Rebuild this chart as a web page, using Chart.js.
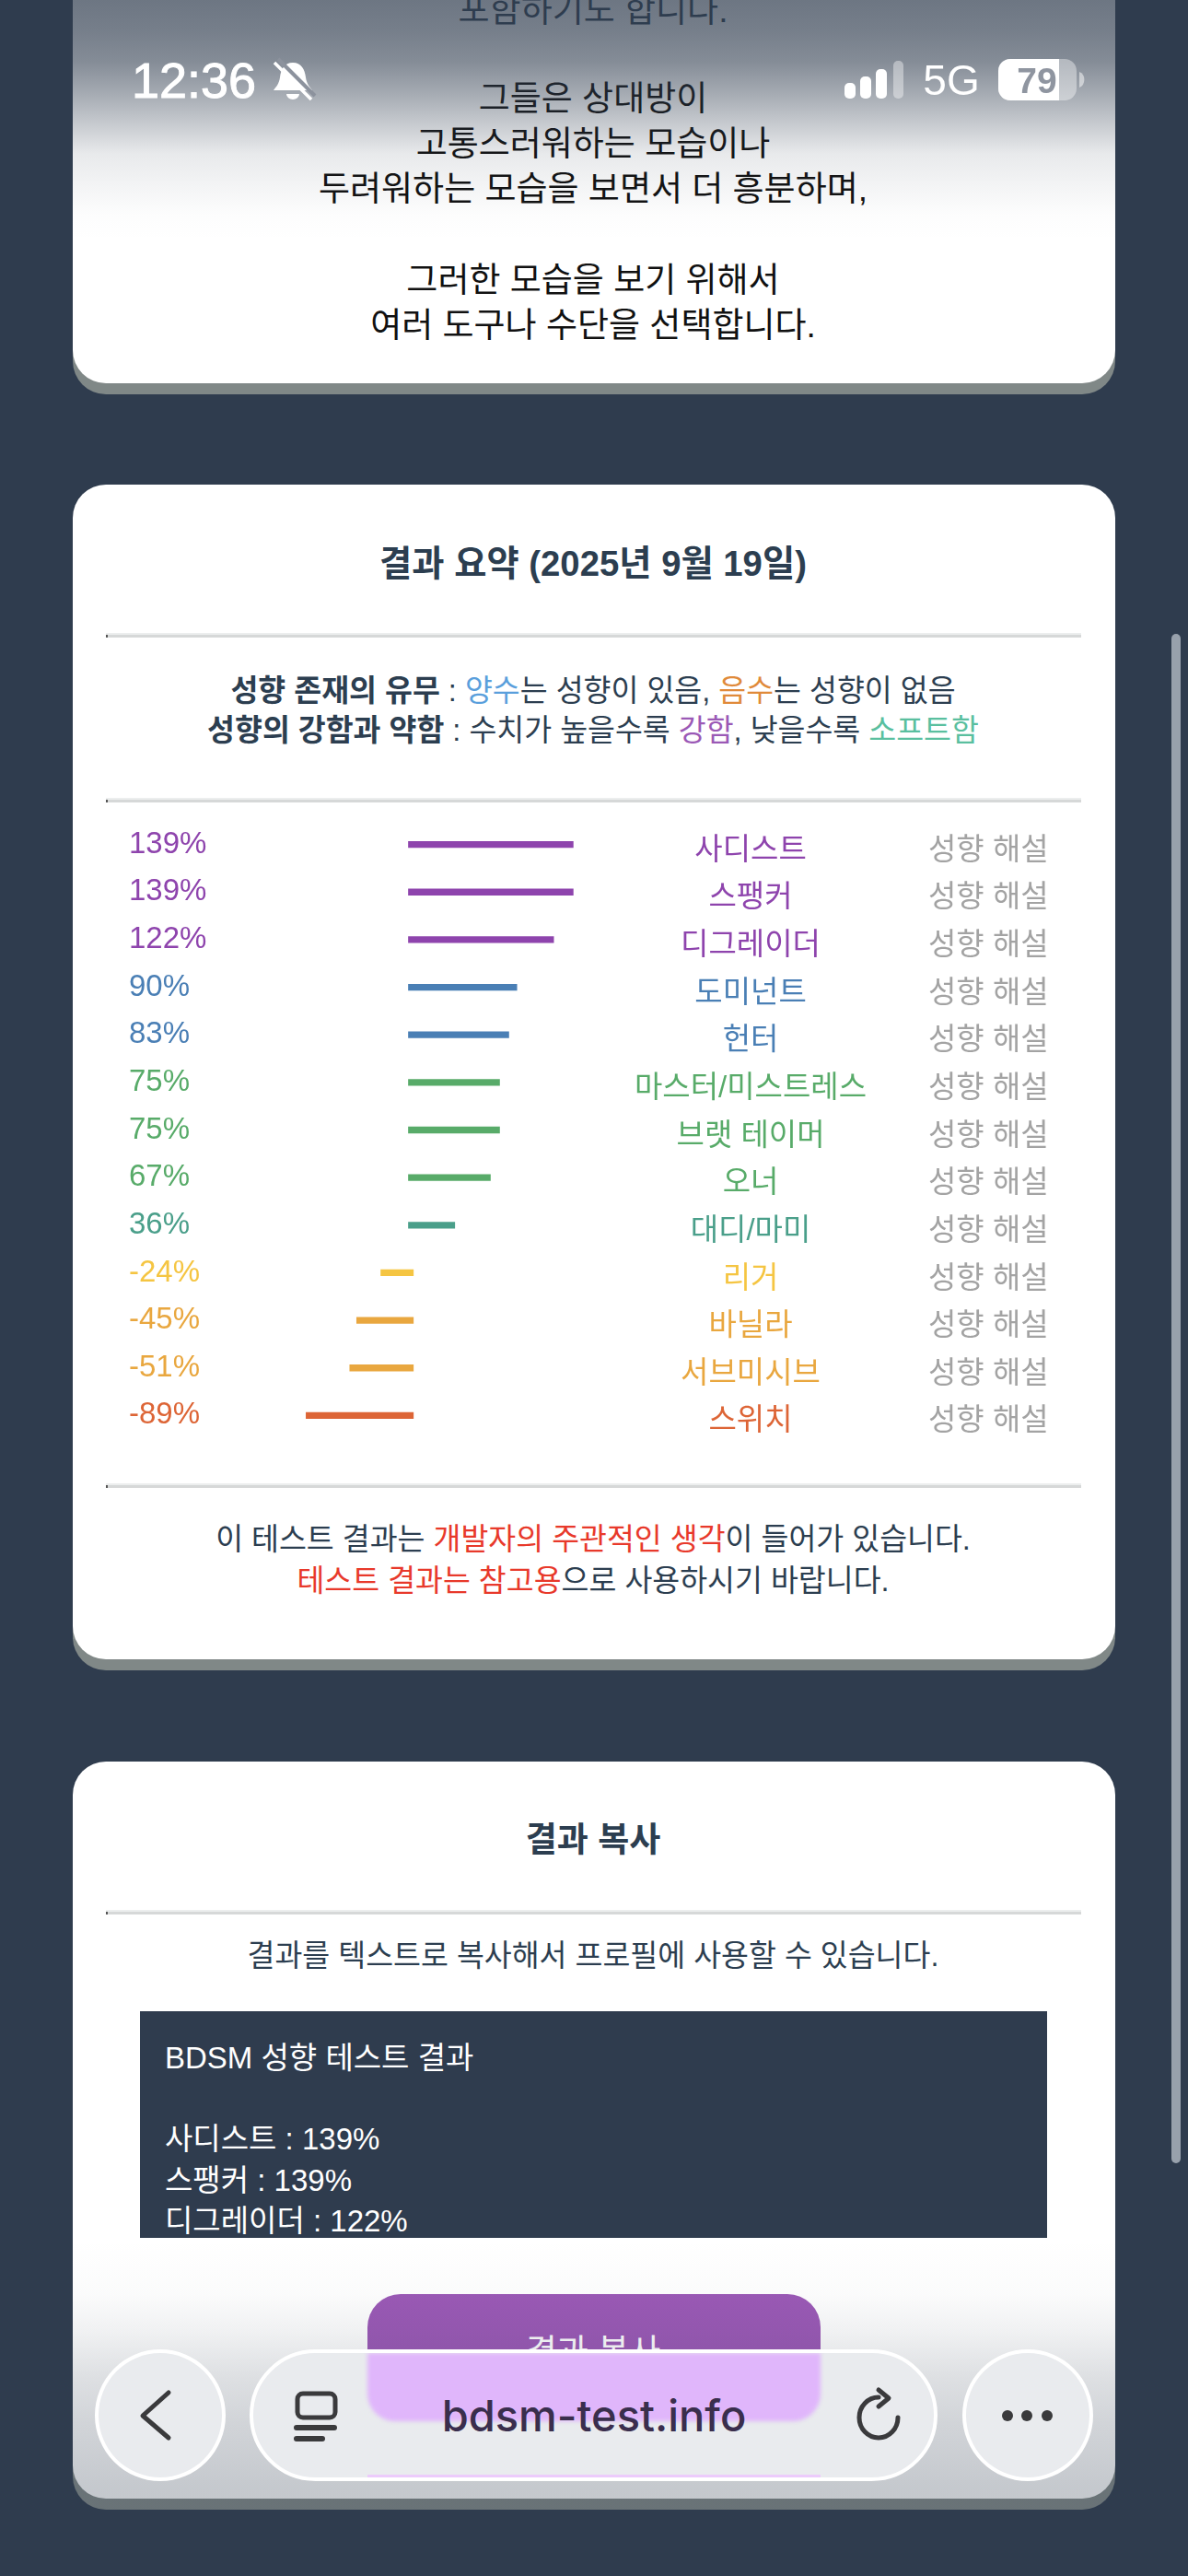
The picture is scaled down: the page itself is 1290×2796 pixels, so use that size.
<!DOCTYPE html>
<html lang="ko"><head><meta charset="utf-8">
<script src="https://cdn.jsdelivr.net/npm/chart.js@4/dist/chart.umd.js"></script>
<style>
html,body{margin:0;padding:0;background:#2f3c4e;width:1290px;height:2796px;overflow:hidden;font-family:"Liberation Sans","Noto Sans CJK KR",sans-serif;color:#2c3e50}
.card{position:absolute;left:79px;width:1132px;background:#fff;border-radius:36px;box-shadow:0 12px 0 0 #808887}
.hr{position:absolute;left:115px;width:1059px;height:3px;border-top:2px solid #eceeee;background:#d6d8d8}
.hr:before{content:"";position:absolute;left:0;top:0;width:2px;height:3px;background:#555}
.t{position:absolute;white-space:nowrap;line-height:1;transform:translate(-50%,-50%)}
.c{left:644px}
.l{transform:translateY(-50%)}
b{font-weight:700}
.box{position:absolute;left:152px;top:2183px;width:985px;height:246px;background:#2f3c4e;overflow:hidden}
#top{position:absolute;left:0;top:0;width:1290px;height:262px;background:linear-gradient(to bottom,rgba(47,60,78,.70) 0,rgba(47,60,78,.66) 33px,rgba(47,60,78,.59) 67px,rgba(47,60,78,.44) 100px,rgba(47,60,78,.28) 133px,rgba(47,60,78,.11) 167px,rgba(47,60,78,.06) 200px,rgba(47,60,78,.01) 233px,rgba(47,60,78,0) 262px)}
#bot{position:absolute;left:0;top:2430px;width:1290px;height:366px;background:linear-gradient(to bottom,rgba(47,60,78,0) 0,rgba(47,60,78,.02) 60px,rgba(47,60,78,.07) 100px,rgba(47,60,78,.16) 150px,rgba(47,60,78,.22) 200px,rgba(47,60,78,.28) 270px,rgba(47,60,78,.28) 366px)}
.pill{position:absolute;top:2550px;height:135px;background:#e9ebee;border:4px solid #fff;box-sizing:content-box;overflow:hidden}
#scroll{position:absolute;left:1272px;top:688px;width:10px;height:1660px;border-radius:5px;background:#98a1ac}
svg{position:absolute;left:0;top:0}
canvas{position:absolute;left:140px;top:871px}
</style></head><body>

<div class="card" style="top:-200px;height:616px"></div>
<div class="t c" style="top:11px;font-size:37px;color:#2c3e50">포함하기도 합니다.</div>
<div class="t c" style="top:107px;font-size:37px;color:#111">그들은 상대방이</div>
<div class="t c" style="top:156px;font-size:37px;color:#111">고통스러워하는 모습이나</div>
<div class="t c" style="top:205px;font-size:37px;color:#111">두려워하는 모습을 보면서 더 흥분하며,</div>
<div class="t c" style="top:304px;font-size:37px;color:#111">그러한 모습을 보기 위해서</div>
<div class="t c" style="top:353px;font-size:37px;color:#111">여러 도구나 수단을 선택합니다.</div>

<div class="card" style="top:526px;height:1275px"></div>
<div class="t c" style="top:612px;font-size:38.3px;font-weight:700">결과 요약 (2025년 9월 19일)</div>
<div class="hr" style="top:687px"></div>
<div class="t c" style="top:750px;font-size:32.5px"><b>성향 존재의 유무</b> : <span style="color:#5a9fdc">양수</span>는 성향이 있음, <span style="color:#e08a3a">음수</span>는 성향이 없음</div>
<div class="t c" style="top:793px;font-size:32.5px"><b>성향의 강함과 약함</b> : 수치가 높을수록 <span style="color:#9b59b6">강함</span>, 낮을수록 <span style="color:#5abf9f">소프트함</span></div>
<div class="hr" style="top:866px"></div>
<canvas id="chart" width="998" height="711"></canvas>
<div class="hr" style="top:1610px"></div>
<div class="t c" style="top:1671px;font-size:32.5px">이 테스트 결과는 <span style="color:#e8392b">개발자의 주관적인 생각</span>이 들어가 있습니다.</div>
<div class="t c" style="top:1716px;font-size:32.5px"><span style="color:#e8392b">테스트 결과는 참고용</span>으로 사용하시기 바랍니다.</div>

<div class="card" style="top:1912px;height:800px"></div>
<div class="t c" style="top:1997px;font-size:37px;font-weight:700">결과 복사</div>
<div class="hr" style="top:2073px"></div>
<div class="t c" style="top:2123px;font-size:32.5px">결과를 텍스트로 복사해서 프로필에 사용할 수 있습니다.</div>
<div class="box"></div>
<div class="t l" style="left:179px;top:2233px;font-size:33px;color:#fff">BDSM 성향 테스트 결과</div>
<div class="t l" style="left:179px;top:2321px;font-size:33px;color:#fff">사디스트 : 139%</div>
<div class="t l" style="left:179px;top:2366px;font-size:33px;color:#fff">스팽커 : 139%</div>
<div style="position:absolute;left:152px;top:2385px;width:985px;height:44px;overflow:hidden"><div class="t l" style="left:27px;top:25px;font-size:33px;color:#fff">디그레이더 : 122%</div></div>

<div style="position:absolute;left:399px;top:2490px;width:492px;height:137px;border-radius:36px;background:#9b59b6"></div>
<div class="t c" style="top:2553px;font-size:37px;color:#fff">결과 복사</div>

<div id="scroll"></div>
<div id="bot"></div>
<div id="top"></div>

<div class="pill" style="left:103px;width:134px;border-radius:50%"></div>
<div class="pill" style="left:271px;width:739px;border-radius:72px">
  <div style="position:absolute;left:124px;top:0;width:492px;height:74px;background:#e0b6fb;border-radius:0 0 30px 30px;filter:blur(2px)"></div>
  <div style="position:absolute;left:124px;top:132px;width:492px;height:6px;background:#eccbfb"></div>
</div>
<div class="pill" style="left:1045px;width:134px;border-radius:50%"></div>
<div class="t" style="left:645px;top:2621px;font-size:47px;font-family:Inter,'Liberation Sans',sans-serif;font-weight:500;color:#3a2e4d">bdsm-test.info</div>

<svg width="1290" height="2796" viewBox="0 0 1290 2796" fill="none">
  <path d="M183 2597L155 2622L183 2646" stroke="#3a3a3c" stroke-width="5" stroke-linecap="round" stroke-linejoin="round"/>
  <rect x="323" y="2598" width="41" height="26" rx="6" stroke="#3a3a3c" stroke-width="5"/>
  <path d="M322 2635H363M322 2647H350" stroke="#3a3a3c" stroke-width="6" stroke-linecap="round"/>
  <path d="M954 2602A21 22 0 1 0 975 2624" stroke="#3a3a3c" stroke-width="5" stroke-linecap="round"/>
  <path d="M954 2594L965 2603L954 2612" stroke="#3a3a3c" stroke-width="5" stroke-linecap="round" stroke-linejoin="round"/>
  <circle cx="1094" cy="2622" r="6" fill="#3a3a3c"/><circle cx="1115" cy="2622" r="6" fill="#3a3a3c"/><circle cx="1137" cy="2622" r="6" fill="#3a3a3c"/>
  <rect x="917" y="90" width="12" height="17" rx="5" fill="#fff"/>
  <rect x="934" y="83" width="12" height="24" rx="5" fill="#fff"/>
  <rect x="951" y="75" width="12" height="32" rx="5" fill="#fff"/>
  <rect x="970" y="66" width="11" height="41" rx="5" fill="rgba(255,255,255,.4)"/>
  <path d="M318 68c-9 0-13 7-14 16c-1 7-4 10-7 14h42c-3-4-6-7-7-14c-1-9-5-16-14-16z" fill="#fff"/>
  <path d="M311 102a7 6 0 0 0 14 0z" fill="#fff"/>
  <path d="M298 68L338 108" stroke="#fff" stroke-width="3.5"/>
  <path d="M302 64L342 104" stroke="#8c929d" stroke-width="4"/>
  <rect x="1084" y="64" width="85" height="45" rx="13" fill="rgba(255,255,255,.4)"/>
  <path d="M1097 64H1150V109H1097A13 13 0 0 1 1084 96V77A13 13 0 0 1 1097 64Z" fill="#fff"/>
  <path d="M1172 78a8 9 0 0 1 0 17z" fill="rgba(255,255,255,.5)"/>
</svg>
<div class="t l" style="left:143px;top:87px;font-size:54px;font-weight:400;color:#fff;-webkit-text-stroke:1px #fff">12:36</div>
<div class="t" style="left:1033px;top:87px;font-size:46px;color:#fff">5G</div>
<div class="t" style="left:1126px;top:87px;font-size:39px;font-weight:700;color:#8f95a0">79</div>

<script>
const FONT = '"Liberation Sans","Noto Sans CJK KR",sans-serif';
const categories = ['사디스트','스팽커','디그레이더','도미넌트','헌터','마스터/미스트레스','브랫 테이머','오너','대디/마미','리거','바닐라','서브미시브','스위치'];
const values = [139,139,122,90,83,75,75,67,36,-24,-45,-51,-89];
const colors = ['#8e44ad','#8e44ad','#8e44ad','#4a7fb5','#4a7fb5','#58ab69','#58ab69','#58ab69','#4a9f8a','#f5c542','#e9a73f','#e9a73f','#dd6536'];
const noteLabels = ['성향 해설','성향 해설','성향 해설','성향 해설','성향 해설','성향 해설','성향 해설','성향 해설','성향 해설','성향 해설','성향 해설','성향 해설','성향 해설'];
const pctLabels = values.map(v => v + '%');

const tickColor = c => colors[c.index];
function side(position, labels, color, width, weight, cross, offset){
  return {type:'category',position,labels,offset:true,weight,
    grid:{display:false,drawTicks:false},border:{display:false},
    afterFit:s=>{s.width=width;},
    ticks:{autoSkip:false,color,padding:0,crossAlign:cross,labelOffset:offset,font:{family:FONT,size:33}}};
}
new Chart(document.getElementById('chart'),{
  type:'bar',
  data:{labels:categories,datasets:[{data:values,backgroundColor:colors,barThickness:1.3,inflateAmount:3}]},
  options:{
    indexAxis:'y',responsive:false,animation:false,
    devicePixelRatio:1,
    layout:{padding:0},
    plugins:{legend:{display:false},tooltip:{enabled:false}},
    scales:{
      x:{type:'linear',min:-100,max:194.5,display:false},
      yPct:side('left',pctLabels,tickColor,181.3,0,'far',0),
      y:side('right',categories,tickColor,319,0,'center',7),
      yNote:side('right',noteLabels,'#a3a3a3',130,1,'near',7)
    }
  }
});
</script>
</body></html>
